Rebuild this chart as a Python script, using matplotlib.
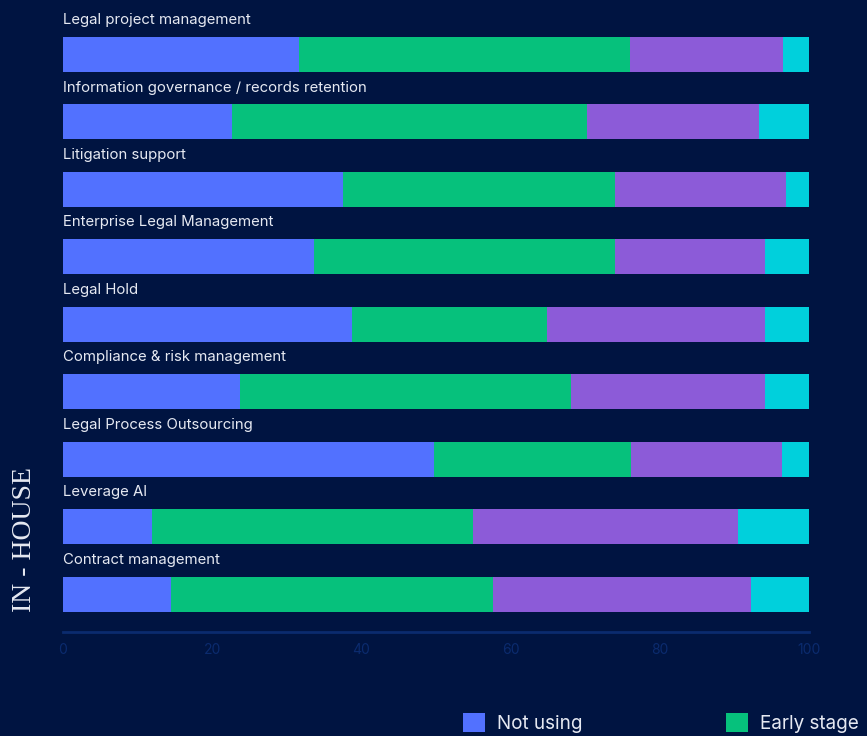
import matplotlib.pyplot as plt
from matplotlib.patches import Patch

categories = [
    'Legal project management',
    'Information governance / records retention',
    'Litigation support',
    'Enterprise Legal Management',
    'Legal Hold',
    'Compliance & risk management',
    'Legal Process Outsourcing',
    'Leverage AI',
    'Contract management',
]
not_using = [31.6, 22.6, 37.6, 33.6, 38.7, 23.7, 49.7, 11.9, 14.5]
early_stage = [44.4, 47.6, 36.4, 40.4, 26.2, 44.4, 26.5, 43.1, 43.2]
intermediate = [20.5, 23.1, 22.9, 20.1, 29.2, 26.0, 20.2, 35.5, 34.5]
advanced = [3.5, 6.7, 3.1, 5.9, 5.9, 5.9, 3.6, 9.5, 7.8]
series_names = ['Not using', 'Early stage', 'Intermediate', 'Advanced']
ticks = [0, 20, 40, 60, 80, 100]

bg = '#001441'
colors = ['#5271ff', '#06c17c', '#8c5bd8', '#00d0dc']
axis_col = '#0b2b6e'

W, H = 867, 736
fig = plt.figure(figsize=(W / 100, H / 100), dpi=100, facecolor=bg)
# axes spans from top of figure down to the axis line
ax = fig.add_axes([63 / W, 1 - 632 / H, (809 - 63) / W, 632 / H])
ax.set_facecolor(bg)

pitch = 67.44
top_center = 54.5
ax.set_ylim((632 - top_center) / pitch, -top_center / pitch)
ax.set_xlim(0, 100)

y = list(range(len(categories)))
left = [0] * len(categories)
for vals, c, name in zip([not_using, early_stage, intermediate, advanced], colors, series_names):
    ax.barh(y, vals, left=left, height=35 / pitch, color=c, label=name, linewidth=0)
    left = [l + v for l, v in zip(left, vals)]

for i, cat in enumerate(categories):
    ax.text(0, i - 0.45, cat, ha='left', va='baseline', color='#e6e9f2',
            fontsize=10.75, family=['Inter', 'DejaVu Sans'])

for s in ['top', 'right', 'left']:
    ax.spines[s].set_visible(False)
ax.spines['bottom'].set_color(axis_col)
ax.spines['bottom'].set_linewidth(2)
ax.set_yticks([])
ax.set_xticks(ticks)
ax.tick_params(axis='x', length=0, pad=8, colors=axis_col, labelsize=10)
for lab in ax.get_xticklabels():
    lab.set_family(['Inter', 'DejaVu Sans'])

fig.text(25 / W, 1 - 539 / H, 'IN - HOUSE', rotation=90, ha='center', va='center',
         color='#e6e9f2', fontsize=20, family=['Liberation Serif', 'DejaVu Serif'])

handles = [Patch(facecolor=c, label=n) for c, n in zip(colors, series_names)]
leg = fig.legend(handles=handles, loc='center left', ncol=4, frameon=False,
                 bbox_to_anchor=(463 / W, 1 - 723 / H), borderpad=0, borderaxespad=0,
                 handlelength=1.15, handleheight=1.15, handletextpad=0.65,
                 columnspacing=7.6, prop={'family': ['Inter', 'DejaVu Sans'], 'size': 13.6})
for t in leg.get_texts():
    t.set_color('#e6e9f2')

fig.savefig('out.png', dpi=100, facecolor=bg)
